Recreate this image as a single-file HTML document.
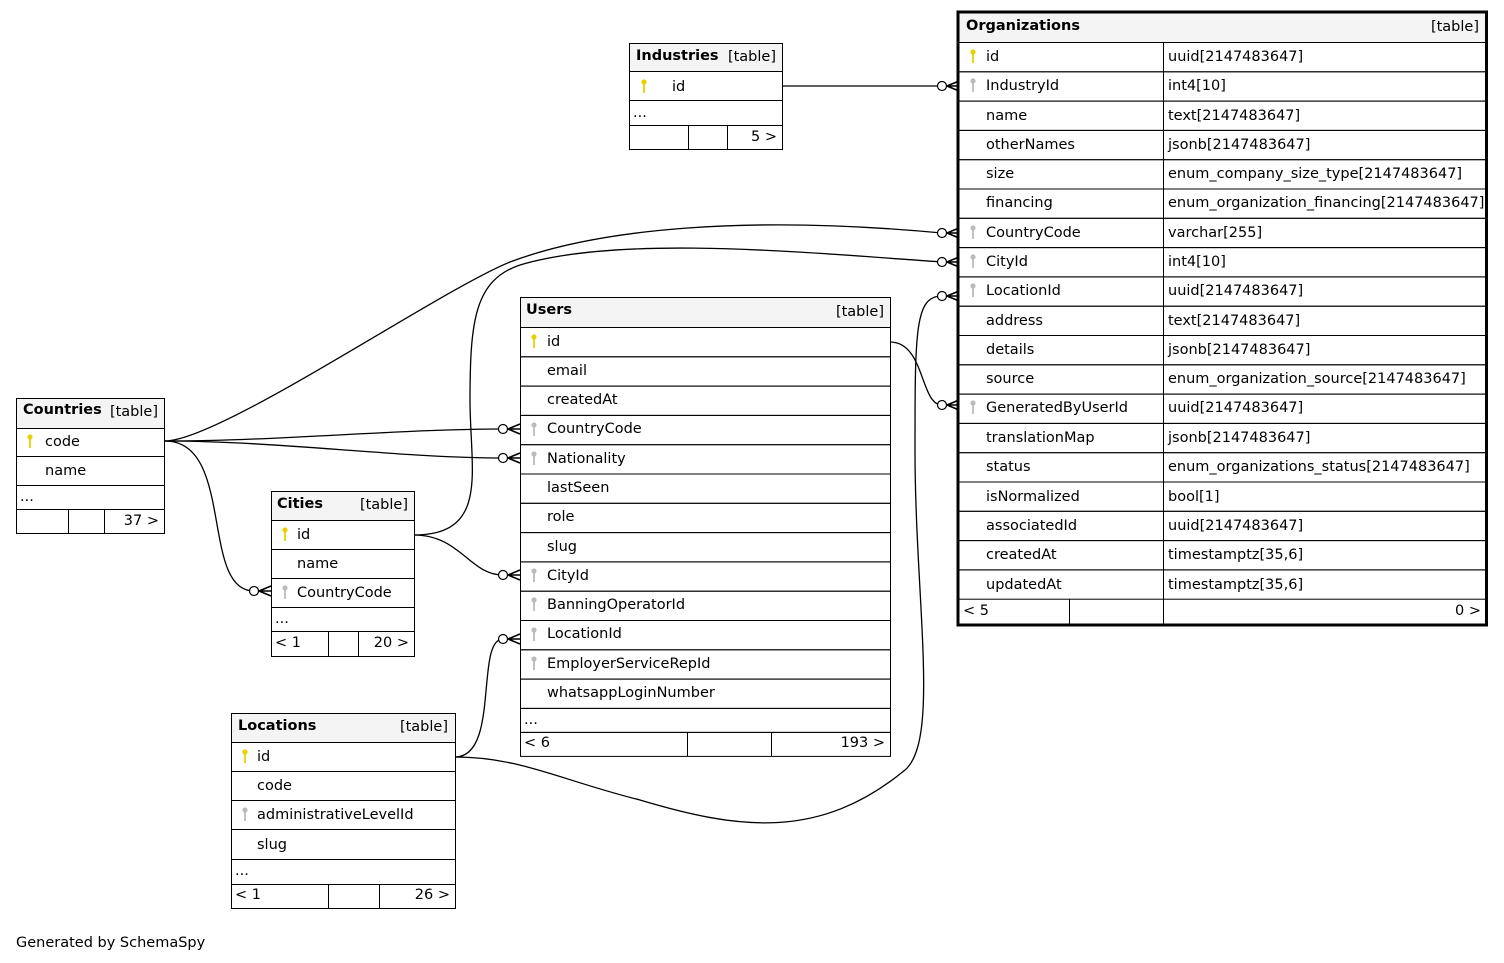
<!DOCTYPE html>
<html><head><meta charset="utf-8"><style>
html,body{margin:0;padding:0;background:#fff;}
svg{display:block;font-family:"DejaVu Sans","Liberation Sans",sans-serif;font-size:14.5px;}
.h{font-weight:bold;}
.b{fill:none;stroke:#000;stroke-width:1;}
.e{fill:none;stroke:#000;stroke-width:1.3;}
</style></head><body>
<svg width="1504" height="963" viewBox="0 0 1504 963" xmlns="http://www.w3.org/2000/svg">
<defs>
<g id="cr"><path d="M5,0 L17,-5 M5,0 L17,0 M5,0 L17,5" stroke="#000" stroke-width="1.6" fill="none"/><circle cx="0" cy="0" r="4.5" fill="#fff" stroke="#000" stroke-width="1.2"/></g>
<g id="pk"><circle cx="0" cy="-3" r="2.6" fill="#e6d200"/><rect x="-0.9" y="-1" width="1.8" height="9" fill="#e6d200"/></g>
<g id="fk"><circle cx="0" cy="-3" r="2.6" fill="#bbb"/><rect x="-0.9" y="-1" width="1.8" height="9" fill="#bbb"/></g>
</defs>

<path class="e" d="M782,86 L942,86"/>
<path class="e" d="M165,441 C220,441 440,290 510,262 C600,228 750,215 942,233"/>
<path class="e" d="M414,535 C490,535 470,470 470,400 C470,320 475,280 520,265 C620,235 800,252 942,262"/>
<path class="e" d="M455,757 C520,757 560,780 640,800 C740,830 820,840 905,770 C940,740 915,600 915,450 C915,330 915,296 942,296"/>
<path class="e" d="M890,342 C925,342 920,405 942,405"/>
<path class="e" d="M165,441 C280,441 400,429 503,429"/>
<path class="e" d="M165,441 C280,441 400,458 503,458"/>
<path class="e" d="M165,441 C235,441 200,591 254,591"/>
<path class="e" d="M414,535 C460,535 470,575 503,575"/>
<path class="e" d="M455,757 C500,757 475,639 503,639"/>
<use href="#cr" x="942" y="86"/><use href="#cr" x="942" y="233"/><use href="#cr" x="942" y="262"/><use href="#cr" x="942" y="296"/><use href="#cr" x="942" y="405"/>
<use href="#cr" x="503" y="429"/><use href="#cr" x="503" y="458"/><use href="#cr" x="254" y="591"/><use href="#cr" x="503" y="575"/><use href="#cr" x="503" y="639"/>

<rect x="629.5" y="43.5" width="153" height="28" fill="#f4f4f4" stroke="#000"/>
<text x="636" y="60" class="h">Industries</text><text x="776" y="61" text-anchor="end">[table]</text>
<rect class="b" x="629.5" y="71.5" width="153" height="29"/><use href="#pk" x="644" y="85"/><text x="672" y="91">id</text>
<rect class="b" x="629.5" y="100.5" width="153" height="25"/><text x="633" y="117">...</text>
<rect class="b" x="629.5" y="125.5" width="153" height="24"/><path class="b" d="M688.5,125.5V149.5M727.5,125.5V149.5"/><text x="777" y="141" text-anchor="end">5 &gt;</text>

<rect x="16.5" y="398.5" width="148" height="30" fill="#f4f4f4" stroke="#000"/>
<text x="23" y="414" class="h">Countries</text><text x="158" y="416" text-anchor="end">[table]</text>
<rect class="b" x="16.5" y="428.5" width="148" height="28"/><use href="#pk" x="30" y="440"/><text x="45" y="446">code</text>
<rect class="b" x="16.5" y="456.5" width="148" height="29"/><text x="45" y="475">name</text>
<rect class="b" x="16.5" y="485.5" width="148" height="24"/><text x="20" y="501">...</text>
<rect class="b" x="16.5" y="509.5" width="148" height="24"/><path class="b" d="M68.5,509.5V533.5M104.5,509.5V533.5"/><text x="159" y="525" text-anchor="end">37 &gt;</text>

<rect x="271.5" y="491.5" width="143" height="29" fill="#f4f4f4" stroke="#000"/>
<text x="277" y="508" class="h">Cities</text><text x="408" y="509" text-anchor="end">[table]</text>
<rect class="b" x="271.5" y="520.5" width="143" height="29"/><use href="#pk" x="285" y="533"/><text x="297" y="539">id</text>
<rect class="b" x="271.5" y="549.5" width="143" height="29"/><text x="297" y="568">name</text>
<rect class="b" x="271.5" y="578.5" width="143" height="29"/><use href="#fk" x="285" y="591"/><text x="297" y="597">CountryCode</text>
<rect class="b" x="271.5" y="607.5" width="143" height="24"/><text x="275" y="623">...</text>
<rect class="b" x="271.5" y="631.5" width="143" height="25"/><path class="b" d="M328.5,631.5V656.5M358.5,631.5V656.5"/><text x="275" y="647">&lt; 1</text><text x="409" y="647" text-anchor="end">20 &gt;</text>

<rect x="231.5" y="713.5" width="224" height="29" fill="#f4f4f4" stroke="#000"/>
<text x="238" y="730" class="h">Locations</text><text x="448" y="731" text-anchor="end">[table]</text>
<rect class="b" x="231.5" y="742.5" width="224" height="29"/><use href="#pk" x="245" y="755"/><text x="257" y="761">id</text>
<rect class="b" x="231.5" y="771.5" width="224" height="29"/><text x="257" y="790">code</text>
<rect class="b" x="231.5" y="800.5" width="224" height="29"/><use href="#fk" x="245" y="813"/><text x="257" y="819">administrativeLevelId</text>
<rect class="b" x="231.5" y="829.5" width="224" height="30"/><text x="257" y="849">slug</text>
<rect class="b" x="231.5" y="859.5" width="224" height="25"/><text x="235" y="875">...</text>
<rect class="b" x="231.5" y="884.5" width="224" height="24"/><path class="b" d="M328.5,884.5V908.5M379.5,884.5V908.5"/><text x="235" y="899">&lt; 1</text><text x="450" y="899" text-anchor="end">26 &gt;</text>

<rect x="520.5" y="297.5" width="370" height="30" fill="#f4f4f4" stroke="#000"/>
<text x="526" y="314" class="h">Users</text><text x="884" y="316" text-anchor="end">[table]</text>
<g>
<rect class="b" x="520.5" y="327.5" width="370" height="29.3"/><use href="#pk" x="534" y="340"/><text x="547" y="346">id</text>
<rect class="b" x="520.5" y="356.8" width="370" height="29.3"/><text x="547" y="375">email</text>
<rect class="b" x="520.5" y="386.1" width="370" height="29.3"/><text x="547" y="404">createdAt</text>
<rect class="b" x="520.5" y="415.4" width="370" height="29.3"/><use href="#fk" x="534" y="428"/><text x="547" y="433">CountryCode</text>
<rect class="b" x="520.5" y="444.7" width="370" height="29.3"/><use href="#fk" x="534" y="457"/><text x="547" y="463">Nationality</text>
<rect class="b" x="520.5" y="474.0" width="370" height="29.3"/><text x="547" y="492">lastSeen</text>
<rect class="b" x="520.5" y="503.3" width="370" height="29.3"/><text x="547" y="521">role</text>
<rect class="b" x="520.5" y="532.6" width="370" height="29.3"/><text x="547" y="551">slug</text>
<rect class="b" x="520.5" y="561.9" width="370" height="29.3"/><use href="#fk" x="534" y="574"/><text x="547" y="580">CityId</text>
<rect class="b" x="520.5" y="591.2" width="370" height="29.3"/><use href="#fk" x="534" y="603"/><text x="547" y="609">BanningOperatorId</text>
<rect class="b" x="520.5" y="620.5" width="370" height="29.3"/><use href="#fk" x="534" y="633"/><text x="547" y="638">LocationId</text>
<rect class="b" x="520.5" y="649.8" width="370" height="29.3"/><use href="#fk" x="534" y="662"/><text x="547" y="668">EmployerServiceRepId</text>
<rect class="b" x="520.5" y="679.1" width="370" height="29.3"/><text x="547" y="697">whatsappLoginNumber</text>
<rect class="b" x="520.5" y="708.4" width="370" height="24"/><text x="524" y="724">...</text>
<rect class="b" x="520.5" y="732.4" width="370" height="24"/><path class="b" d="M687.5,732.4V756.4M771.5,732.4V756.4"/><text x="524" y="747">&lt; 6</text><text x="885" y="747" text-anchor="end">193 &gt;</text>
</g>

<rect x="958.5" y="12.5" width="528" height="30" fill="#f4f4f4" stroke="#000"/>
<text x="966" y="30" class="h">Organizations</text><text x="1479" y="31" text-anchor="end">[table]</text>
<g>
<rect class="b" x="958.5" y="42.5" width="528" height="29.3"/><use href="#pk" x="973" y="55"/><text x="986" y="61">id</text><text x="1168" y="61">uuid[2147483647]</text>
<rect class="b" x="958.5" y="71.8" width="528" height="29.3"/><use href="#fk" x="973" y="84"/><text x="986" y="90">IndustryId</text><text x="1168" y="90">int4[10]</text>
<rect class="b" x="958.5" y="101.1" width="528" height="29.3"/><text x="986" y="120">name</text><text x="1168" y="120">text[2147483647]</text>
<rect class="b" x="958.5" y="130.4" width="528" height="29.3"/><text x="986" y="149">otherNames</text><text x="1168" y="149">jsonb[2147483647]</text>
<rect class="b" x="958.5" y="159.7" width="528" height="29.3"/><text x="986" y="178">size</text><text x="1168" y="178">enum_company_size_type[2147483647]</text>
<rect class="b" x="958.5" y="189.0" width="528" height="29.3"/><text x="986" y="207">financing</text><text x="1168" y="207">enum_organization_financing[2147483647]</text>
<rect class="b" x="958.5" y="218.3" width="528" height="29.3"/><use href="#fk" x="973" y="231"/><text x="986" y="237">CountryCode</text><text x="1168" y="237">varchar[255]</text>
<rect class="b" x="958.5" y="247.6" width="528" height="29.3"/><use href="#fk" x="973" y="260"/><text x="986" y="266">CityId</text><text x="1168" y="266">int4[10]</text>
<rect class="b" x="958.5" y="276.9" width="528" height="29.3"/><use href="#fk" x="973" y="289"/><text x="986" y="295">LocationId</text><text x="1168" y="295">uuid[2147483647]</text>
<rect class="b" x="958.5" y="306.2" width="528" height="29.3"/><text x="986" y="325">address</text><text x="1168" y="325">text[2147483647]</text>
<rect class="b" x="958.5" y="335.5" width="528" height="29.3"/><text x="986" y="354">details</text><text x="1168" y="354">jsonb[2147483647]</text>
<rect class="b" x="958.5" y="364.8" width="528" height="29.3"/><text x="986" y="383">source</text><text x="1168" y="383">enum_organization_source[2147483647]</text>
<rect class="b" x="958.5" y="394.1" width="528" height="29.3"/><use href="#fk" x="973" y="406"/><text x="986" y="412">GeneratedByUserId</text><text x="1168" y="412">uuid[2147483647]</text>
<rect class="b" x="958.5" y="423.4" width="528" height="29.3"/><text x="986" y="442">translationMap</text><text x="1168" y="442">jsonb[2147483647]</text>
<rect class="b" x="958.5" y="452.7" width="528" height="29.3"/><text x="986" y="471">status</text><text x="1168" y="471">enum_organizations_status[2147483647]</text>
<rect class="b" x="958.5" y="482.0" width="528" height="29.3"/><text x="986" y="501">isNormalized</text><text x="1168" y="501">bool[1]</text>
<rect class="b" x="958.5" y="511.3" width="528" height="29.3"/><text x="986" y="530">associatedId</text><text x="1168" y="530">uuid[2147483647]</text>
<rect class="b" x="958.5" y="540.6" width="528" height="29.3"/><text x="986" y="559">createdAt</text><text x="1168" y="559">timestamptz[35,6]</text>
<rect class="b" x="958.5" y="569.9" width="528" height="29.3"/><text x="986" y="589">updatedAt</text><text x="1168" y="589">timestamptz[35,6]</text>
<path class="b" d="M1163.5,42.5V625"/>
<path class="b" d="M1069.5,599.2V625"/>
<text x="963" y="615">&lt; 5</text><text x="1481" y="615" text-anchor="end">0 &gt;</text>
</g>
<rect x="958" y="12" width="528.5" height="613" fill="none" stroke="#000" stroke-width="3"/>

<text x="16" y="947">Generated by SchemaSpy</text>
</svg>
</body></html>
